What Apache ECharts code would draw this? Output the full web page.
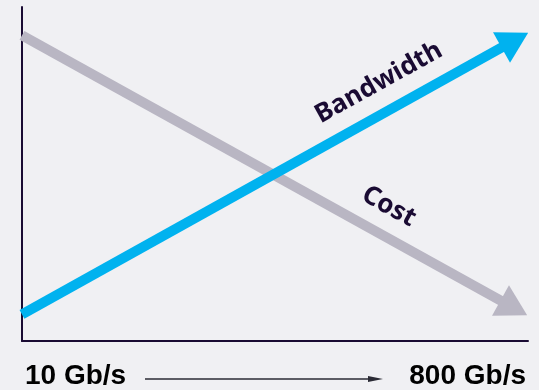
<!DOCTYPE html>
<html><head><meta charset="utf-8">
<script src="https://cdn.jsdelivr.net/npm/echarts@6/dist/echarts.min.js"></script>
<style>html,body{margin:0;padding:0;background:#f0f0f3;}#c{width:539px;height:390px;}</style>
</head><body><div id="c"></div>
<script>
const xTickLabels = ['10 Gb/s', '800 Gb/s'];
const xPositions = [0, 1];
const costX = [0, 0.972];
const costValues = [91.5, 9.9];
const bandwidthX = [0, 0.974];
const bandwidthValues = [8.0, 90.1];
const seriesNames = ['Bandwidth', 'Cost'];
const labelAnchorBandwidth = [0.705, 77.3];
const labelAnchorCost = [0.725, 40.2];

const chart = echarts.init(document.getElementById('c'), null, {renderer: 'canvas'});
const dark = '#1a0b33';
const arrowSize = [35, 30.5];
chart.setOption({
  backgroundColor: '#f0f0f3',
  animation: false,
  grid: {left: 22, right: 11, top: 7, bottom: 46},
  xAxis: {
    type: 'value', min: 0, max: 1, interval: 1,
    axisLine: {show: true, lineStyle: {color: dark, width: 2}},
    axisTick: {show: false}, splitLine: {show: false},
    axisLabel: {
      show: true, margin: 21, color: '#000', fontSize: 28, fontWeight: 'bold',
      fontFamily: 'Liberation Sans, Arial, sans-serif', padding: [0, 2, 0, 3],
      alignMinLabel: 'left', alignMaxLabel: 'right',
      formatter: v => xTickLabels[xPositions.indexOf(v)]
    }
  },
  yAxis: {
    type: 'value', min: 0, max: 100,
    axisLine: {show: true, lineStyle: {color: dark, width: 2}},
    axisTick: {show: false}, splitLine: {show: false}, axisLabel: {show: false}
  },
  series: [
    {
      name: seriesNames[1], type: 'lines', coordinateSystem: 'cartesian2d',
      data: [{coords: [[costX[0], costValues[0]], [costX[1], costValues[1]]]}],
      lineStyle: {color: '#b9b6c3', width: 10, opacity: 1},
      symbol: ['none', 'triangle'], symbolSize: [0, arrowSize], z: 2
    },
    {
      name: seriesNames[0], type: 'lines', coordinateSystem: 'cartesian2d',
      data: [{coords: [[bandwidthX[0], bandwidthValues[0]], [bandwidthX[1], bandwidthValues[1]]]}],
      lineStyle: {color: '#00b2ef', width: 10, opacity: 1},
      symbol: ['none', 'triangle'], symbolSize: [0, arrowSize], z: 3
    },
    {
      type: 'scatter', symbolSize: 0, z: 5, itemStyle: {opacity: 1},
      data: [
        {name: seriesNames[0], value: labelAnchorBandwidth, label: {rotate: 29}},
        {name: seriesNames[1], value: labelAnchorCost, label: {rotate: -29}}
      ],
      label: {show: true, position: 'inside', formatter: p => p.name, color: dark, opacity: 1,
        fontSize: 26, fontWeight: 'bold', fontStyle: 'normal', fontFamily: '"Noto Sans", sans-serif'}
    }
  ],
  graphic: [
    {type: 'line', shape: {x1: 145, y1: 379, x2: 372, y2: 379}, style: {stroke: '#2b2b35', lineWidth: 1.5}},
    {type: 'polygon', shape: {points: [[368, 376], [383, 379], [368, 382]]}, style: {fill: '#2b2b35'}}
  ]
});
</script></body></html>
